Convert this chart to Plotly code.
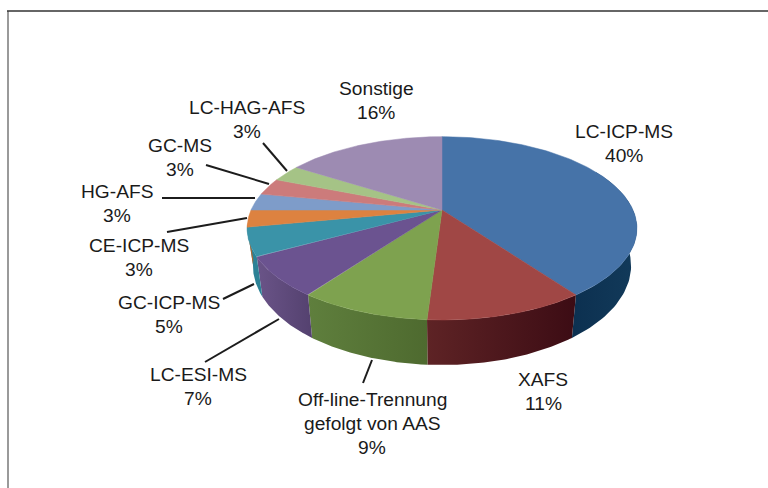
import numpy as np
import plotly.graph_objects as go

categories = ["LC-ICP-MS", "XAFS", "Off-line-Trennung<br>gefolgt von AAS", "LC-ESI-MS", "GC-ICP-MS",
              "CE-ICP-MS", "HG-AFS", "GC-MS", "LC-HAG-AFS", "Sonstige"]
values = [40, 11, 9, 7, 5, 3, 3, 3, 3, 16]
top_colors = ["#4673A8", "#A04745", "#7EA24F", "#6B5390", "#3A93A8",
              "#DD8240", "#7E9CC9", "#CC7B7B", "#A5C386", "#9D8BB2"]
side_left = ["#0C3050", "#5E2325", "#5F7F3D", "#6A5488", "#2C8296",
             "#B0662E", "#6A84AA", "#A86060", "#88A36A", "#7D6C92"]
side_right = ["#123A5A", "#3C0C14", "#4E6A2F", "#54416F", "#2C8296",
              "#B0662E", "#6A84AA", "#A86060", "#88A36A", "#7D6C92"]
label_xy = [(624, 143), (543, 391), (372, 423), (198, 386), (169, 314),
            (139, 257), (117, 203), (180, 157), (247, 119), (376, 100)]
leaders = [None, None, ((363, 383), (372, 360)), ((205, 362), (279, 319)), ((223, 299), (254, 284)),
           ((167, 232), (247, 218)), ((162, 198), (255, 198)), ((206, 165), (269, 184)),
           ((263, 143), (287, 171)), None]

CX, CY, KX, KY, P, DEPTH, SHRINK = 442, 210, 191, 88, 0.2, 36, 0.97


def rim(theta):
    u, v = np.sin(theta), -np.cos(theta)
    w = 1 - P * v
    return CX + KX * u / w, CY + KY * v / w, w


def bottom(theta):
    x, y, w = rim(theta)
    return CX + SHRINK * (x - CX), y + DEPTH / w


fig = go.Figure()

edges = np.cumsum([0] + values) / sum(values) * 2 * np.pi
VIS0, VIS1 = np.radians(62), np.radians(262)

# Leader lines
for seg in leaders:
    if seg:
        fig.add_trace(go.Scatter(x=[seg[0][0], seg[1][0]], y=[seg[0][1], seg[1][1]], mode="lines",
                                 line=dict(color="#1c1c1c", width=2), hoverinfo="skip"))

# Side walls
for i in range(len(values)):
    a, b = max(edges[i], VIS0), min(edges[i + 1], VIS1)
    if b <= a:
        continue
    t = np.linspace(a, b, 60)
    xt, yt, _ = rim(t)
    xb, yb = bottom(t)
    fig.add_trace(go.Scatter(
        x=np.r_[xt, xb[::-1]], y=np.r_[yt, yb[::-1]], mode="lines", fill="toself",
        line=dict(width=0, color=side_left[i]),
        fillgradient=dict(type="horizontal", colorscale=[[0, side_left[i]], [1, side_right[i]]]),
        hoverinfo="skip"))

# Top face
for i in range(len(values)):
    t = np.linspace(edges[i], edges[i + 1], 120)
    xt, yt, _ = rim(t)
    fig.add_trace(go.Scatter(
        x=np.r_[CX, xt, CX], y=np.r_[CY, yt, CY], mode="lines", fill="toself",
        fillcolor=top_colors[i], line=dict(width=0.5, color=top_colors[i]),
        name=categories[i], hoverinfo="skip"))

for cat, val, (lx, ly) in zip(categories, values, label_xy):
    lines = cat.split("<br>") + [f"{val}%"]
    for j, line in enumerate(lines):
        fig.add_annotation(x=lx, y=ly + (j - (len(lines) - 1) / 2) * 24, xref="x", yref="y", text=line,
                           showarrow=False, xanchor="center", yanchor="middle", align="center",
                           font=dict(family="Liberation Sans, Arial, sans-serif", size=19.2, color="#1a1a1a"))

# Frame of the scanned figure
fig.add_shape(type="line", x0=8, x1=8, y0=11, y1=488, xref="x", yref="y", line=dict(color="#9a9a9a", width=2))
fig.add_shape(type="line", x0=7, x1=768, y0=11, y1=11, xref="x", yref="y", line=dict(color="#333333", width=1.5))

fig.update_layout(
    width=768, height=488, margin=dict(l=0, r=0, t=0, b=0), showlegend=False,
    paper_bgcolor="white", plot_bgcolor="white",
    xaxis=dict(range=[0, 768], visible=False, fixedrange=True),
    yaxis=dict(range=[488, 0], visible=False, fixedrange=True),
)
fig.write_html("out.html", config={"displayModeBar": False},
               post_script="document.body.style.margin='0';document.body.style.overflow='hidden';")
